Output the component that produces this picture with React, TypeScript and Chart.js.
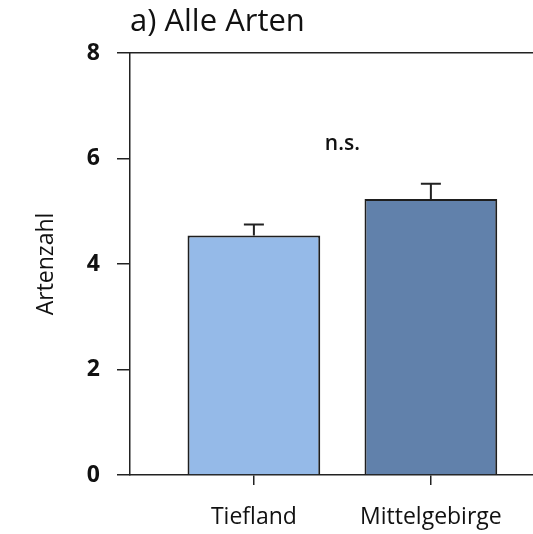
import React, { useEffect, useRef } from "react";
import { Chart, registerables } from "chart.js";

Chart.register(...registerables);

const categories = ["Tiefland", "Mittelgebirge"];
const means = [4.54, 5.23];
const errors = [0.21, 0.29];
const barColors = ["#95BAE8", "#6181AB"];
const yTicks = [0, 2, 4, 6, 8];
const titleText = "a) Alle Arten";
const yTitle = "Artenzahl";
const sigLabel = "n.s.";
const sigValue = 6.28;

const FONT = "'Open Sans', Lato, sans-serif";

const errorBarPlugin = {
  id: "errorBars",
  afterDatasetsDraw(chart: any) {
    const ctx = chart.ctx;
    const meta = chart.getDatasetMeta(0);
    const yScale = chart.scales.y;
    ctx.save();
    ctx.strokeStyle = "#222";
    ctx.lineWidth = 2;
    meta.data.forEach((el: any, i: number) => {
      const x = el.x;
      const yTop = yScale.getPixelForValue(means[i] + errors[i]);
      const yBase = el.y;
      ctx.beginPath();
      ctx.moveTo(x, yBase);
      ctx.lineTo(x, yTop);
      ctx.moveTo(x - 10, yTop);
      ctx.lineTo(x + 10, yTop);
      ctx.stroke();
    });
    ctx.restore();
  },
};

const textPlugin = {
  id: "texts",
  afterDraw(chart: any) {
    const ctx = chart.ctx;
    const { x, y } = chart.scales;
    ctx.save();
    ctx.fillStyle = "#111";
    ctx.font = `31px ${FONT}`;
    ctx.textAlign = "left";
    ctx.textBaseline = "alphabetic";
    ctx.fillText(titleText, chart.chartArea.left, 31);
    ctx.font = `600 21px ${FONT}`;
    ctx.textAlign = "center";
    ctx.textBaseline = "middle";
    ctx.fillText(sigLabel, x.getPixelForValue(0.5), y.getPixelForValue(sigValue));
    ctx.restore();
  },
};

export default function App() {
  const ref = useRef<HTMLCanvasElement>(null);
  useEffect(() => {
    if (!ref.current) return;
    const chart = new Chart(ref.current, {
      type: "bar",
      data: {
        datasets: [
          {
            data: categories.map((c, i) => ({ x: i, y: means[i] })),
            backgroundColor: barColors,
            borderColor: "#1e1e1e",
            borderWidth: 2,
            barPercentage: 0.75,
            categoryPercentage: 1,
          },
        ],
      },
      options: {
        responsive: false,
        animation: false,
        layout: { padding: 0 },
        plugins: {
          legend: { display: false },
          tooltip: { enabled: false },
          title: { display: false },
        },
        scales: {
          x: {
            type: "linear",
            position: "bottom",
            offset: false,
            min: -0.7,
            max: 1.577,
            afterBuildTicks: (s: any) => {
              s.ticks = categories.map((_, i) => ({ value: i }));
            },
            afterFit: (s: any) => {
              s.height = 59;
            },
            ticks: {
              callback: (v: any) => categories[v as number],
              font: { family: FONT, size: 23 },
              color: "#111",
              padding: 19,
              maxRotation: 0,
            },
            grid: {
              offset: false,
              drawOnChartArea: false,
              drawTicks: true,
              tickLength: 10,
              color: "#222",
              lineWidth: 1.5,
            },
            border: { display: true, color: "#222", width: 1.5 },
          },
          x2: {
            type: "linear",
            position: "top",
            min: 0,
            max: 1,
            afterFit: (s: any) => {
              s.height = 53;
            },
            ticks: { display: false },
            grid: { display: false, drawTicks: false },
            border: { display: true, color: "#222", width: 1.5 },
          },
          y: {
            min: 0,
            max: 8,
            afterBuildTicks: (s: any) => {
              s.ticks = yTicks.map((v) => ({ value: v }));
            },
            afterFit: (s: any) => {
              s.width = 130;
            },
            ticks: {
              font: { family: FONT, size: 23, weight: "bold" },
              color: "#111",
              padding: 17,
            },
            grid: {
              drawOnChartArea: false,
              drawTicks: true,
              tickLength: 13,
              color: "#222",
              lineWidth: 1.5,
            },
            border: { display: true, color: "#222", width: 1.5 },
            title: {
              display: true,
              text: yTitle,
              font: { family: FONT, size: 23 },
              color: "#111",
              padding: { top: 33, bottom: 0 },
            },
          },
        },
      },
      plugins: [errorBarPlugin, textPlugin],
    });
    return () => chart.destroy();
  }, []);
  return (
    <div style={{ position: "absolute", left: 0, top: 0, width: 533, height: 534, background: "#fff" }}>
      <canvas ref={ref} width={533} height={534} />
    </div>
  );
}
